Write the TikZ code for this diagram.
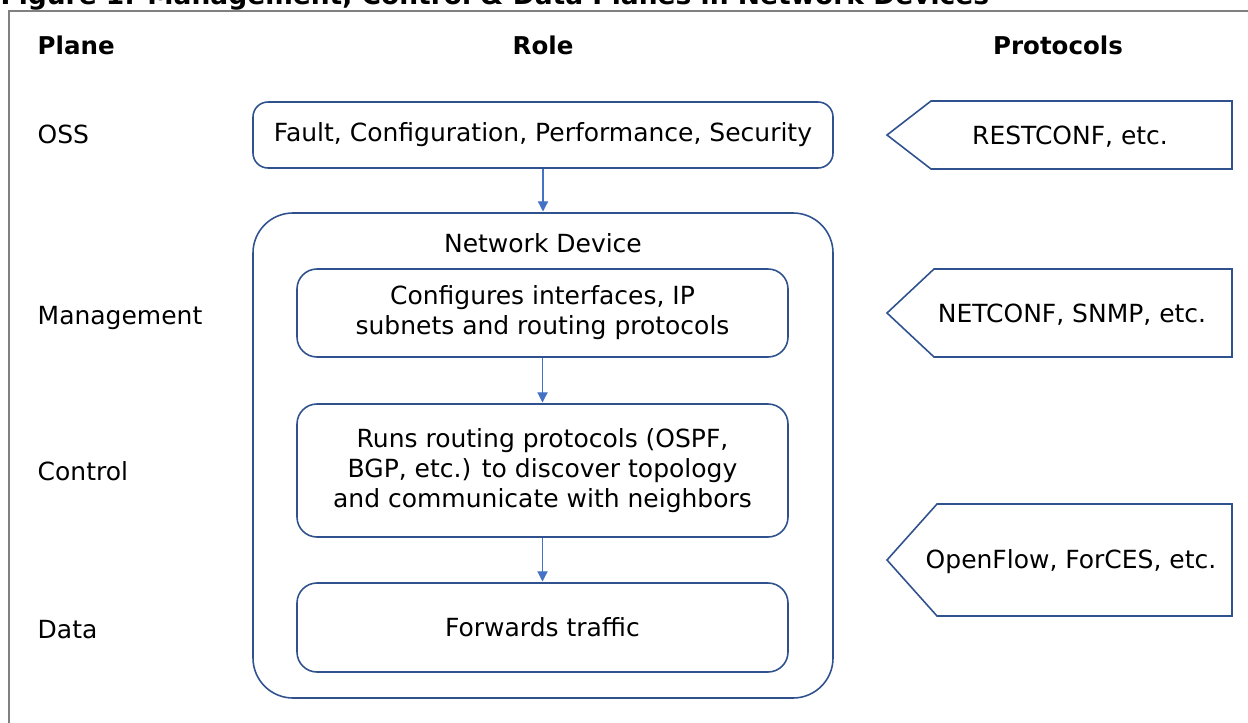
\documentclass[tikz,border=0pt]{standalone}
\usepackage{fontspec}
\setmainfont{DejaVu Sans}
\usetikzlibrary{arrows.meta}

\definecolor{boxblue}{RGB}{47,82,143}
\definecolor{flowblue}{RGB}{68,114,196}
\definecolor{framegray}{RGB}{128,128,128}

\tikzset{
  role/.style={draw=boxblue, line width=0.45pt, inner sep=0pt, align=center},
  flow/.style={draw=flowblue, line width=0.35pt,
    -{Triangle[width=2.9pt,length=2.9pt]}, shorten >=0.2pt},
  proto/.style={draw=boxblue, line width=0.45pt},
  head/.style={font=\fontsize{6.97pt}{8.4pt}\selectfont\bfseries},
  plane/.style={anchor=base west, inner sep=0pt},
}

\begin{document}
\begin{tikzpicture}[font=\fontsize{7.11pt}{8.54pt}\selectfont]

\useasboundingbox (0,0) rectangle (12.48,-7.22);

% Caption and frame (both run past the page edges)
\node[anchor=base west, inner sep=0pt, font=\fontsize{7.54pt}{9pt}\selectfont\bfseries]
  (title) at (0.0,-0.05) {Figure 1: Management, Control \& Data Planes in Network Devices};
\draw[framegray, line width=0.6pt] (0.09,-7.6) |- (12.7,-0.11);

% Column headings
\node[head, plane] (hplane) at (0.37,-0.55) {Plane};
\node[head, anchor=base] (hrole) at (5.43,-0.55) {Role};
\node[head, anchor=base] (hproto) at (10.58,-0.55) {Protocols};

% Plane names
\node[plane] (poss) at (0.37,-1.44) {OSS};
\node[plane] (pmgmt) at (0.37,-3.24) {Management};
\node[plane] (pctrl) at (0.37,-4.80) {Control};
\node[plane] (pdata) at (0.37,-6.38) {Data};

% OSS functions
\node[role, rounded corners=0.15cm, minimum width=5.80cm, minimum height=0.66cm]
  (oss) at (5.43,-1.35) {Fault, Configuration, Performance, Security};

% Network device and its planes
\node[role, rounded corners=0.40cm, minimum width=5.80cm, minimum height=4.85cm]
  (device) at (5.43,-4.555) {};
\node (devlabel) at (5.43,-2.43) {Network Device};

\node[role, rounded corners=0.20cm, minimum width=4.91cm, minimum height=0.88cm]
  (mgmt) at (5.425,-3.13)
  {Configures interfaces, IP\\subnets and routing protocols};

\node[role, rounded corners=0.20cm, minimum width=4.91cm, minimum height=1.33cm]
  (ctrl) at (5.425,-4.705)
  {Runs routing protocols (OSPF,\\BGP, etc.) to discover topology\\and communicate with neighbors};

\node[role, rounded corners=0.20cm, minimum width=4.91cm, minimum height=0.89cm]
  (data) at (5.425,-6.275) {Forwards traffic};

% Top-down flow
\draw[flow] (oss.south) -- (oss.south |- device.north);
\draw[flow] (mgmt.south) -- (ctrl.north);
\draw[flow] (ctrl.south) -- (data.north);

% Protocol arrows
\draw[proto] (8.87,-1.35) -- (9.31,-1.01) -- (12.32,-1.01)
  -- (12.32,-1.69) -- (9.31,-1.69) -- cycle;
\node (restconf) at (10.70,-1.37) {RESTCONF, etc.};

\draw[proto] (8.87,-3.13) -- (9.34,-2.69) -- (12.32,-2.69)
  -- (12.32,-3.57) -- (9.34,-3.57) -- cycle;
\node (netconf) at (10.72,-3.15) {NETCONF, SNMP, etc.};

\draw[proto] (8.87,-5.60) -- (9.37,-5.04) -- (12.32,-5.04)
  -- (12.32,-6.16) -- (9.37,-6.16) -- cycle;
\node (openflow) at (10.71,-5.62) {OpenFlow, ForCES, etc.};

\end{tikzpicture}
\end{document}
